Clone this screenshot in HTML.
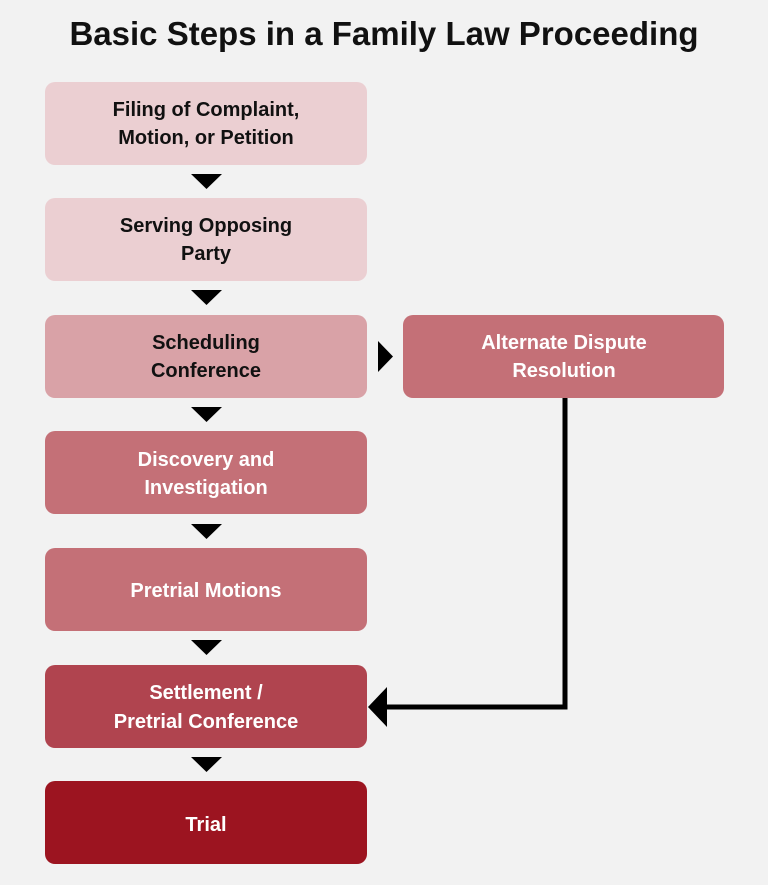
<!DOCTYPE html>
<html><head><meta charset="utf-8"><style>
html,body{margin:0;padding:0;background:#f2f2f2;}
svg{display:block;}
text{font-family:"Liberation Sans",sans-serif;font-weight:bold;font-size:20px;text-anchor:middle;}
</style></head><body>
<svg width="768" height="885" viewBox="0 0 768 885">
<rect width="768" height="885" fill="#f2f2f2"/>
<text x="384" y="45" style="font-size:33px" fill="#111">Basic Steps in a Family Law Proceeding</text>
<g>
<rect x="45" y="82" width="322" height="83" rx="10" fill="#ebcfd2"/>
<rect x="45" y="198" width="322" height="83" rx="10" fill="#ebcfd2"/>
<rect x="45" y="315" width="322" height="83" rx="10" fill="#d9a2a7"/>
<rect x="45" y="431" width="322" height="83" rx="10" fill="#c47077"/>
<rect x="45" y="548" width="322" height="83" rx="10" fill="#c47077"/>
<rect x="45" y="665" width="322" height="83" rx="10" fill="#b0444f"/>
<rect x="45" y="781" width="322" height="83" rx="10" fill="#9c1420"/>
<rect x="403" y="315" width="321" height="83" rx="10" fill="#c47077"/>
</g>
<g fill="#000">
<polygon points="191,174 222,174 206.5,189"/>
<polygon points="191,290 222,290 206.5,305"/>
<polygon points="191,407 222,407 206.5,422"/>
<polygon points="191,524 222,524 206.5,539"/>
<polygon points="191,640 222,640 206.5,655"/>
<polygon points="191,757 222,757 206.5,772"/>
<polygon points="378,341 378,372 393,356.5"/>
<polygon points="368,707 387,687 387,727"/>
</g>
<polyline points="565,398 565,707 385,707" fill="none" stroke="#000" stroke-width="5"/>
<g fill="#111">
<text x="206" y="116">Filing of Complaint,</text>
<text x="206" y="144">Motion, or Petition</text>
<text x="206" y="232">Serving Opposing</text>
<text x="206" y="260">Party</text>
<text x="206" y="349">Scheduling</text>
<text x="206" y="377">Conference</text>
</g>
<g fill="#fff">
<text x="206" y="466">Discovery and</text>
<text x="206" y="494">Investigation</text>
<text x="206" y="597">Pretrial Motions</text>
<text x="206" y="699">Settlement /</text>
<text x="206" y="728">Pretrial Conference</text>
<text x="206" y="831">Trial</text>
<text x="564" y="349">Alternate Dispute</text>
<text x="564" y="377">Resolution</text>
</g>
</svg>
</body></html>
